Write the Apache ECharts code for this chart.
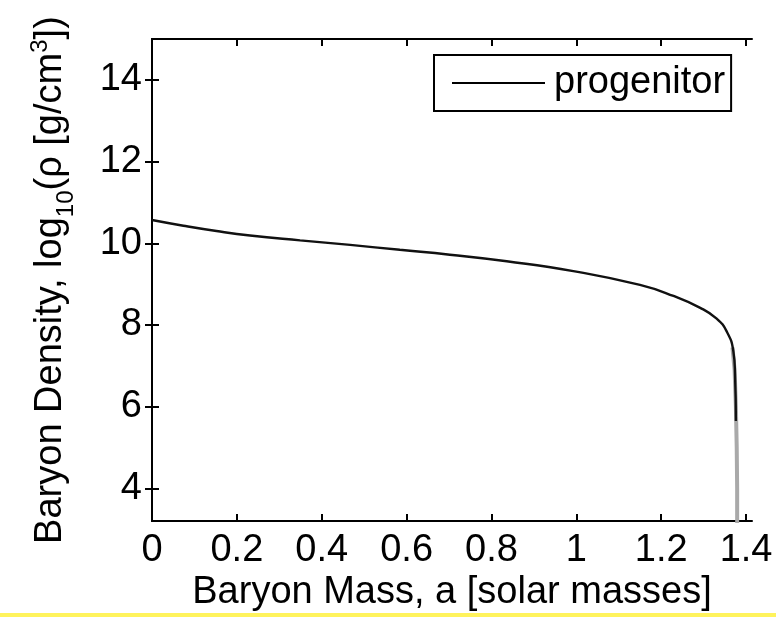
<!DOCTYPE html>
<html>
<head>
<meta charset="utf-8">
<script src="https://cdn.jsdelivr.net/npm/echarts@6/dist/echarts.min.js"></script>
<style>
html,body{margin:0;padding:0;background:#fff;}
#chart{width:776px;height:617px;}
</style>
</head>
<body>
<div id="chart"></div>
<script>
// Data
const mass = [0, 0.074, 0.152, 0.231, 0.349, 0.467, 0.584, 0.702, 0.836, 0.993, 1.150, 1.229, 1.292, 1.330, 1.354, 1.370, 1.374, 1.376];
const density = [10.57, 10.43, 10.30, 10.19, 10.07, 9.96, 9.84, 9.72, 9.56, 9.32, 8.98, 8.71, 8.42, 8.16, 7.85, 7.36, 6.79, 5.65];
const tailMass = [1.368, 1.373, 1.376, 1.378, 1.379, 1.379];
const tailDensity = [7.45, 6.9, 6.0, 5.0, 4.0, 3.0];
const xTicks = [0, 0.2, 0.4, 0.6, 0.8, 1.0, 1.2, 1.4];
const yTicks = [4, 6, 8, 10, 12, 14];
const seriesName = 'progenitor';
const xTitle = 'Baryon Mass, a [solar masses]';

const FONT = "'Liberation Sans', Arial, Helvetica, sans-serif";
const chart = echarts.init(document.getElementById('chart'), null, {renderer: 'canvas'});
const fmt = v => String(Math.round(v * 10) / 10);
const axisLine = {show: true, lineStyle: {color: '#000', width: 2}};
const tickStyle = {show: true, inside: true, length: 7, lineStyle: {color: '#000', width: 2}};

const option = {
  backgroundColor: '#fff',
  animation: false,
  grid: {left: 152, right: 24, top: 39, bottom: 93, containLabel: false},
  legend: {
    show: true,
    data: [{name: seriesName, icon: 'rect'}],
    left: 434, top: 55,
    backgroundColor: '#fff',
    borderColor: '#000', borderWidth: 2, borderRadius: 0,
    padding: [8, 6, 8, 18],
    itemWidth: 93, itemHeight: 2, itemGap: 10,
    itemStyle: {color: '#000', borderWidth: 0},
    textStyle: {fontFamily: FONT, fontSize: 38, color: '#000', lineHeight: 40, padding: [0, 0, 0, 4]}
  },
  xAxis: [{
    type: 'value', position: 'bottom', min: 0, max: 1.414,
    axisLine: axisLine, splitLine: {show: false},
    axisTick: Object.assign({}, tickStyle, {customValues: xTicks}),
    axisLabel: {customValues: xTicks, formatter: fmt, margin: 10, color: '#000', fontFamily: FONT, fontSize: 38},
    name: xTitle, nameLocation: 'middle', nameGap: 52,
    nameTextStyle: {fontFamily: FONT, fontSize: 38, color: '#000'}
  }, {
    type: 'value', position: 'top', min: 0, max: 1.414,
    axisLine: axisLine, splitLine: {show: false},
    axisTick: Object.assign({}, tickStyle, {customValues: xTicks}),
    axisLabel: {show: false}
  }],
  yAxis: [{
    type: 'value', position: 'left', min: 3.2, max: 15,
    axisLine: axisLine, splitLine: {show: false},
    axisTick: Object.assign({}, tickStyle, {customValues: yTicks}),
    axisLabel: {customValues: yTicks, margin: 10, color: '#000', fontFamily: FONT, fontSize: 38},
    name: '{a|Baryon Density, log}{sub|10}{a|(ρ [g/cm}{sup|3}{a|])}',
    nameLocation: 'middle', nameRotate: 90, nameGap: 78,
    nameTextStyle: {
      fontFamily: FONT, fontSize: 38, color: '#000',
      rich: {
        a: {fontFamily: FONT, fontSize: 38, color: '#000', lineHeight: 46},
        sub: {fontFamily: FONT, fontSize: 24, color: '#000', lineHeight: 46, verticalAlign: 'bottom', padding: [0, 0, -4, 0]},
        sup: {fontFamily: FONT, fontSize: 24, color: '#000', lineHeight: 46, verticalAlign: 'top'}
      }
    }
  }, {
    type: 'value', position: 'right', min: 3.2, max: 15,
    axisLine: axisLine, splitLine: {show: false},
    axisTick: Object.assign({}, tickStyle, {customValues: yTicks}),
    axisLabel: {show: false}
  }],
  series: [{
    name: 'tail', type: 'line', z: 1,
    data: tailMass.map((m, i) => [m, tailDensity[i]]),
    showSymbol: false, symbol: 'none', smooth: false,
    lineStyle: {color: '#a9a9a9', width: 4},
    silent: true
  }, {
    name: seriesName, type: 'line', z: 3,
    data: mass.map((m, i) => [m, density[i]]),
    showSymbol: false, symbol: 'none', smooth: 0.5,
    itemStyle: {color: '#000'},
    lineStyle: {color: '#111', width: 2.4}
  }],
  graphic: [{
    type: 'rect', left: 0, top: 613,
    shape: {width: 776, height: 4},
    style: {fill: '#fff35c'}
  }]
};
chart.setOption(option);
</script>
</body>
</html>
